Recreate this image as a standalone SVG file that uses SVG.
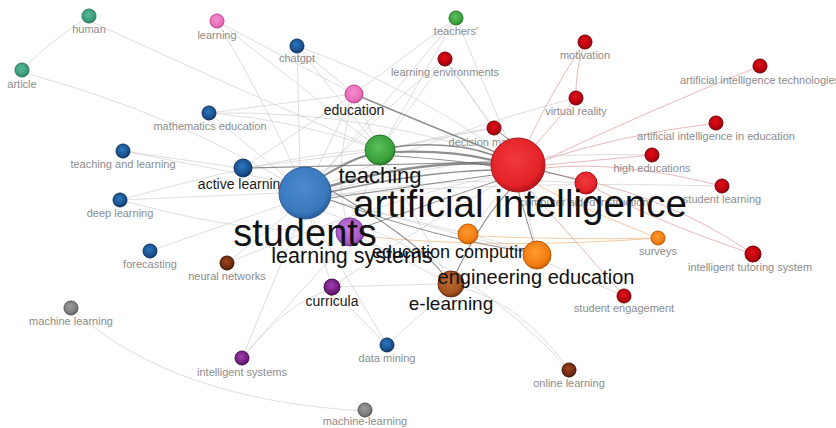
<svg xmlns="http://www.w3.org/2000/svg" width="836" height="428" viewBox="0 0 836 428">
<style>
  text { font-family: "Liberation Sans", Arial, sans-serif; text-anchor: middle; }
  .sm { font-size: 11px; fill: #8c8c8c; }
  .md { font-size: 14px; fill: #1a1a1a; }
  .lg { fill: #111; }
  .e { fill: none; stroke: #c8c8c8; stroke-width: 0.8; stroke-opacity: 0.75; }
  .er { fill: none; stroke: #e2a8aa; stroke-width: 0.9; stroke-opacity: 0.9; }
  .eo { fill: none; stroke: #f0c49a; stroke-width: 0.9; }
  .eh { fill: none; stroke: #6a6a6a; stroke-opacity: 0.75; }
  .red { fill: url(#gRed); stroke: #a8141a; stroke-width: 1; }
  .dred { fill: url(#gDred); stroke: #7a0008; stroke-width: 1; }
  .blue { fill: url(#gBlue); stroke: #2a5d98; stroke-width: 1; }
  .dblue { fill: url(#gDblue); stroke: #0f3566; stroke-width: 1; }
  .green { fill: url(#gGreen); stroke: #2a7a2a; stroke-width: 1; }
  .teal { fill: url(#gTeal); stroke: #2a7a5a; stroke-width: 1; }
  .pink { fill: url(#gPink); stroke: #c04a90; stroke-width: 1; }
  .orange { fill: url(#gOrange); stroke: #c05a00; stroke-width: 1; }
  .brown { fill: url(#gBrown); stroke: #6a300e; stroke-width: 1; }
  .dbrown { fill: url(#gDbrown); stroke: #3e1405; stroke-width: 1; }
  .purple { fill: url(#gPurple); stroke: #7a3a9a; stroke-width: 1; }
  .dpurple { fill: url(#gDpurple); stroke: #4a0e55; stroke-width: 1; }
  .gray { fill: url(#gGray); stroke: #555; stroke-width: 1; }
</style>
<defs>
  <radialGradient id="gRed" cx="0.45" cy="0.4" r="0.6"><stop offset="0" stop-color="#f03a3e"/><stop offset="0.8" stop-color="#e32227"/><stop offset="1" stop-color="#b0141a"/></radialGradient>
  <radialGradient id="gDred" cx="0.45" cy="0.4" r="0.6"><stop offset="0" stop-color="#e0101a"/><stop offset="0.8" stop-color="#b4000c"/><stop offset="1" stop-color="#7a0008"/></radialGradient>
  <radialGradient id="gBlue" cx="0.45" cy="0.4" r="0.6"><stop offset="0" stop-color="#4a8ad0"/><stop offset="0.8" stop-color="#3a78bc"/><stop offset="1" stop-color="#2a5d98"/></radialGradient>
  <radialGradient id="gDblue" cx="0.45" cy="0.4" r="0.6"><stop offset="0" stop-color="#2a78c0"/><stop offset="0.75" stop-color="#1b4f8a"/><stop offset="1" stop-color="#0f3566"/></radialGradient>
  <radialGradient id="gGreen" cx="0.45" cy="0.4" r="0.6"><stop offset="0" stop-color="#5cc05c"/><stop offset="0.8" stop-color="#3aa03a"/><stop offset="1" stop-color="#2a7a2a"/></radialGradient>
  <radialGradient id="gTeal" cx="0.45" cy="0.4" r="0.6"><stop offset="0" stop-color="#5ab894"/><stop offset="0.8" stop-color="#3a9a78"/><stop offset="1" stop-color="#2a7a5a"/></radialGradient>
  <radialGradient id="gPink" cx="0.45" cy="0.4" r="0.6"><stop offset="0" stop-color="#f590cc"/><stop offset="0.8" stop-color="#e86ab8"/><stop offset="1" stop-color="#c04a90"/></radialGradient>
  <radialGradient id="gOrange" cx="0.45" cy="0.4" r="0.6"><stop offset="0" stop-color="#ff9a30"/><stop offset="0.8" stop-color="#f07b10"/><stop offset="1" stop-color="#c05a00"/></radialGradient>
  <radialGradient id="gBrown" cx="0.45" cy="0.4" r="0.6"><stop offset="0" stop-color="#c06a36"/><stop offset="0.8" stop-color="#a0501e"/><stop offset="1" stop-color="#6a300e"/></radialGradient>
  <radialGradient id="gDbrown" cx="0.45" cy="0.4" r="0.6"><stop offset="0" stop-color="#a04418"/><stop offset="0.8" stop-color="#6b2810"/><stop offset="1" stop-color="#3e1405"/></radialGradient>
  <radialGradient id="gPurple" cx="0.45" cy="0.4" r="0.6"><stop offset="0" stop-color="#c878e0"/><stop offset="0.8" stop-color="#a658c8"/><stop offset="1" stop-color="#7a3a9a"/></radialGradient>
  <radialGradient id="gDpurple" cx="0.45" cy="0.4" r="0.6"><stop offset="0" stop-color="#a040b0"/><stop offset="0.8" stop-color="#6e1a7a"/><stop offset="1" stop-color="#4a0e55"/></radialGradient>
  <radialGradient id="gGray" cx="0.45" cy="0.4" r="0.6"><stop offset="0" stop-color="#9a9a9a"/><stop offset="0.8" stop-color="#7a7a7a"/><stop offset="1" stop-color="#555"/></radialGradient>
</defs>
<rect width="836" height="428" fill="#ffffff"/>

<g id="connectors">
  <path class="e" d="M89,16 Q45,45 22,70"/>
  <path class="e" d="M92,22 Q250,95 380,150"/>
  <path class="e" d="M25,73 Q180,115 305,193"/>
  <path class="e" d="M217,21 L354,94"/>
  <path class="e" d="M217,21 Q300,85 380,150"/>
  <path class="e" d="M217,21 Q270,110 305,193"/>
  <path class="e" d="M297,46 L300,168"/>
  <path class="e" d="M297,46 L354,94"/>
  <path class="e" d="M297,46 Q420,90 518,165"/>
  <path class="e" d="M209,113 L305,193"/>
  <path class="e" d="M209,113 Q300,120 380,150"/>
  <path class="e" d="M209,113 Q380,110 518,165"/>
  <path class="e" d="M456,18 L380,150"/>
  <path class="e" d="M456,18 L518,165"/>
  <path class="e" d="M456,18 Q380,110 305,193"/>
  <path class="e" d="M445,59 L518,165"/>
  <path class="e" d="M445,59 Q370,120 305,193"/>
  <path class="e" d="M445,59 L380,150"/>
  <path class="er" d="M585,42 Q575,70 576,98"/>
  <path class="er" d="M585,42 Q545,100 518,165"/>
  <path class="er" d="M576,98 L518,165"/>
  <path class="e" d="M576,98 Q450,130 305,193"/>
  <path class="er" d="M760,66 Q650,110 540,162"/>
  <path class="er" d="M716,123 Q620,135 544,160"/>
  <path class="er" d="M652,155 L545,165"/>
  <path class="e" d="M652,155 Q480,150 330,190"/>
  <path class="er" d="M722,186 Q620,160 545,168"/>
  <path class="e" d="M722,186 Q520,180 330,195"/>
  <path class="er" d="M753,254 Q660,190 542,172"/>
  <path class="er" d="M753,254 Q650,220 586,183"/>
  <path class="eo" d="M658,238 Q560,200 530,180"/>
  <path class="eo" d="M658,238 Q560,240 478,236"/>
  <path class="eo" d="M658,238 Q500,250 360,236"/>
  <path class="er" d="M624,296 L530,190"/>
  <path class="e" d="M624,296 L545,262"/>
  <path class="e" d="M569,370 Q520,300 455,286"/>
  <path class="e" d="M569,370 Q470,260 320,210"/>
  <path class="e" d="M387,345 L312,218"/>
  <path class="e" d="M387,345 L334,292"/>
  <path class="e" d="M387,345 L446,292"/>
  <path class="e" d="M242,358 L300,218"/>
  <path class="e" d="M242,358 Q290,300 330,290"/>
  <path class="e" d="M242,358 Q300,290 345,245"/>
  <path class="e" d="M71,308 Q170,400 365,411"/>
  <path class="e" d="M227,263 L290,212"/>
  <path class="e" d="M227,263 Q380,200 500,175"/>
  <path class="e" d="M150,251 L282,205"/>
  <path class="e" d="M120,200 L280,193"/>
  <path class="e" d="M120,200 Q230,230 300,230"/>
  <path class="e" d="M123,151 L283,182"/>
  <path class="e" d="M123,151 L240,168"/>
  <path class="e" d="M243,168 L354,94"/>
  <path class="e" d="M243,168 L367,152"/>
  <path class="e" d="M354,94 L305,193"/>
  <path class="e" d="M354,94 L380,150"/>
  <path class="e" d="M354,94 Q330,180 350,232"/>
  <path class="e" d="M332,287 L310,218"/>
  <path class="e" d="M332,287 Q430,220 505,180"/>
  <path class="e" d="M332,287 L440,284"/>
  <path class="e" d="M468,234 L505,185"/>
  <path class="e" d="M468,234 L328,200"/>
  <path class="e" d="M468,234 L527,250"/>
  <path class="e" d="M537,255 L330,200"/>
  <path class="e" d="M537,255 L524,192"/>
  <path class="e" d="M494,128 L380,150"/>
  <path class="e" d="M494,128 Q400,140 310,175"/>
  <path class="e" d="M586,183 Q450,175 330,196"/>
  <path class="e" d="M350,232 L380,150"/>
  <path class="e" d="M350,232 L451,284"/>
  <path class="e" d="M380,150 L451,284"/>
  <path class="e" d="M456,18 L354,94"/>
  <path class="e" d="M445,59 L494,128"/>
  <path class="e" d="M297,46 L380,150"/>
  <path class="e" d="M209,113 L354,94"/>
  <path class="e" d="M120,200 Q300,150 380,150"/>

  <path class="eh" stroke-width="1.4" d="M354,94 Q440,130 515,160"/>
  <path class="eh" stroke-width="1.2" d="M252,168 L492,162"/>
  <path class="eh" stroke-width="1.1" d="M330,190 Q420,240 451,284"/>
  <path class="eh" stroke-width="1.1" d="M451,284 Q480,220 510,190"/>
  <path class="eh" stroke-width="1" d="M518,190 L537,255"/>
  <path class="eh" stroke-width="1" d="M330,200 Q440,240 530,252"/>
  <path class="eh" stroke-width="1" d="M350,232 Q440,200 500,180"/>
  <path class="eh" stroke-width="1" d="M494,128 L512,142"/>
  <path class="eh" stroke-width="1" d="M540,170 L578,180"/>
  <path class="eh" stroke-width="2" d="M320,178 Q350,160 368,155"/>
  <path class="eh" stroke-width="2.2" d="M394,152 Q450,150 492,160"/>
  <path class="eh" stroke-width="1.4" d="M394,147 Q450,140 493,155"/>
  <path class="eh" stroke-width="1.2" d="M395,156 Q455,160 492,166"/>
  <path class="eh" stroke-width="2.6" d="M330,186 Q420,160 492,164"/>
  <path class="eh" stroke-width="1.6" d="M330,192 Q420,172 492,170"/>
  <path class="eh" stroke-width="1.2" d="M330,198 Q420,185 493,175"/>
</g>

<g id="node-human"><circle class="teal" cx="89" cy="16" r="7"/><text class="sm" x="89" y="33">human</text></g>
<g id="node-article"><circle class="teal" cx="22" cy="70" r="7"/><text class="sm" x="22" y="88">article</text></g>
<g id="node-learning"><circle class="pink" cx="217" cy="21" r="7"/><text class="sm" x="217" y="39">learning</text></g>
<g id="node-chatgpt"><circle class="dblue" cx="297" cy="46" r="7"/><text class="sm" x="297" y="62">chatgpt</text></g>
<g id="node-teachers"><circle class="green" cx="456" cy="18" r="7"/><text class="sm" x="456" y="35">teachers'</text></g>
<g id="node-learning-environments"><circle class="dred" cx="445" cy="59" r="7"/><text class="sm" x="445" y="76">learning environments</text></g>
<g id="node-motivation"><circle class="dred" cx="585" cy="42" r="7"/><text class="sm" x="585" y="59">motivation</text></g>
<g id="node-virtual-reality"><circle class="dred" cx="576" cy="98" r="7"/><text class="sm" x="576" y="115">virtual reality</text></g>
<g id="node-ai-technologies"><circle class="dred" cx="760" cy="66" r="7"/><text class="sm" x="760" y="84">artificial intelligence technologies</text></g>
<g id="node-mathematics-education"><circle class="dblue" cx="209" cy="113" r="7"/><text class="sm" x="210" y="130">mathematics education</text></g>
<g id="node-ai-in-education"><circle class="dred" cx="716" cy="123" r="7"/><text class="sm" x="716" y="140">artificial intelligence in education</text></g>
<g id="node-high-educations"><circle class="dred" cx="652" cy="155" r="7"/><text class="sm" x="652" y="172">high educations</text></g>
<g id="node-student-learning"><circle class="dred" cx="722" cy="186" r="7"/><text class="sm" x="722" y="203">student learning</text></g>
<g id="node-teaching-and-learning"><circle class="dblue" cx="123" cy="151" r="7"/><text class="sm" x="123" y="168">teaching and learning</text></g>
<g id="node-deep-learning"><circle class="dblue" cx="120" cy="200" r="7"/><text class="sm" x="120" y="217">deep learning</text></g>
<g id="node-forecasting"><circle class="dblue" cx="150" cy="251" r="7"/><text class="sm" x="150" y="268">forecasting</text></g>
<g id="node-neural-networks"><circle class="dbrown" cx="227" cy="263" r="7"/><text class="sm" x="227" y="280">neural networks</text></g>
<g id="node-surveys"><circle class="orange" cx="658" cy="238" r="7"/><text class="sm" x="658" y="255">surveys</text></g>
<g id="node-intelligent-tutoring-system"><circle class="dred" cx="753" cy="254" r="8"/><text class="sm" x="750" y="271">intelligent tutoring system</text></g>
<g id="node-student-engagement"><circle class="dred" cx="624" cy="296" r="7"/><text class="sm" x="624" y="312">student engagement</text></g>
<g id="node-machine-learning"><circle class="gray" cx="71" cy="308" r="7"/><text class="sm" x="71" y="325">machine learning</text></g>
<g id="node-data-mining"><circle class="dblue" cx="387" cy="345" r="7"/><text class="sm" x="387" y="362">data mining</text></g>
<g id="node-intelligent-systems"><circle class="dpurple" cx="242" cy="358" r="7"/><text class="sm" x="242" y="376">intelligent systems</text></g>
<g id="node-online-learning"><circle class="dbrown" cx="569" cy="370" r="7"/><text class="sm" x="569" y="387">online learning</text></g>
<g id="node-machine-hyphen-learning"><circle class="gray" cx="365" cy="410" r="7"/><text class="sm" x="365" y="425">machine-learning</text></g>
<g id="node-decision-making"><circle class="dred" cx="494" cy="128" r="7"/><text class="sm" x="488" y="146">decision making</text></g>
<g id="node-computer-aided-instruction"><circle class="red" cx="586" cy="183" r="11"/><text class="sm" x="584" y="206">computer aided instruction</text></g>

<g id="node-education"><circle class="pink" cx="354" cy="94" r="9"/><text class="md" x="354" y="115">education</text></g>
<g id="node-active-learning"><circle class="dblue" cx="243" cy="168" r="9"/><text class="md" x="243" y="189">active learning</text></g>
<g id="node-curricula"><circle class="dpurple" cx="332" cy="287" r="8"/><text class="md" x="332" y="306">curricula</text></g>
<g id="node-learning-systems"><circle class="purple" cx="350" cy="232" r="14"/><text class="lg" font-size="21.5" x="352" y="263">learning systems</text></g>
<g id="node-education-computing"><circle class="orange" cx="468" cy="234" r="10"/><text class="lg" font-size="18" x="455" y="258" fill="#222">education computing</text></g>
<g id="node-e-learning"><circle class="brown" cx="451" cy="284" r="13"/><text class="lg" font-size="19" x="451" y="310">e-learning</text></g>
<g id="node-engineering-education"><circle class="orange" cx="537" cy="255" r="14"/><text class="lg" font-size="20" x="536" y="284">engineering education</text></g>
<g id="node-teaching"><circle class="green" cx="380" cy="150" r="15"/><text class="lg" font-size="22" x="380" y="183">teaching</text></g>
<g id="node-students"><circle class="blue" cx="305" cy="193" r="26"/><text class="lg" font-size="38" x="305" y="246">students</text></g>
<g id="node-artificial-intelligence"><circle class="red" cx="518" cy="165" r="27"/><text class="lg" font-size="38.5" x="520" y="217">artificial intelligence</text></g>
</svg>
